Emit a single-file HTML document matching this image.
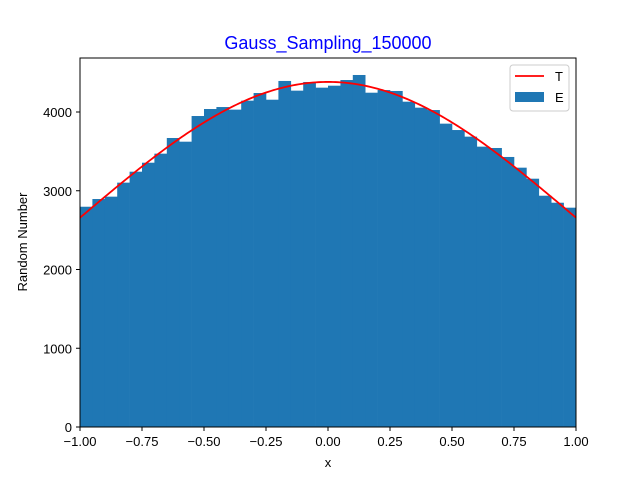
<!DOCTYPE html>
<html><head><meta charset="utf-8"><style>
body{margin:0;background:#fff;}
svg text{font-family:"Liberation Sans","DejaVu Sans",sans-serif;}
</style></head><body>
<svg id="chart" width="640" height="480" xmlns="http://www.w3.org/2000/svg">
<rect width="640" height="480" fill="#fff"/>
<text x="328" y="49" text-anchor="middle" font-size="18" fill="#0000ff">Gauss_Sampling_150000</text>
<g id="bars"></g>
<polyline id="curve" fill="none" stroke="#ff0000" stroke-width="1.8"/>
<rect x="80" y="58" width="496" height="369" fill="none" stroke="#000" stroke-width="1"/>
<g id="xticks"></g>
<g id="yticks"></g>
<text x="328" y="467" text-anchor="middle" font-size="13">x</text>
<text transform="translate(27,242) rotate(-90)" text-anchor="middle" font-size="13">Random Number</text>
<g>
<rect x="510" y="65" width="59" height="46" rx="3" fill="#fff" stroke="#ccc"/>
<line x1="515" y1="76" x2="544" y2="76" stroke="#ff0000" stroke-width="1.8"/>
<text x="555" y="81" font-size="13">T</text>
<rect x="515" y="92" width="29" height="10" fill="#1f77b4"/>
<text x="555" y="102" font-size="13">E</text>
</g>
</svg>
<script>
const counts=[2797,2895,2925,3103,3242,3356,3471,3670,3623,3949,4038,4063,4030,4144,4241,4156,4394,4271,4381,4309,4334,4406,4470,4245,4279,4267,4131,4055,4025,3852,3771,3687,3560,3543,3429,3293,3153,2937,2848,2785];
const xTicks=[-1,-0.75,-0.5,-0.25,0,0.25,0.5,0.75,1];
const xTickLabels=["\u22121.00","\u22120.75","\u22120.50","\u22120.25","0.00","0.25","0.50","0.75","1.00"];
const yTicks=[0,1000,2000,3000,4000];
const theoryPeak=[4382];
const theorySigma=[1];
const NS="http://www.w3.org/2000/svg";
const X=v=>80+(v+1)/2*496;
const Y=v=>427-v*0.07875;
const bars=document.getElementById('bars');
const w=2/counts.length;
counts.forEach((c,i)=>{
 const r=document.createElementNS(NS,'rect');
 const x0=X(-1+i*w),x1=X(-1+(i+1)*w);
 r.setAttribute('x',x0);r.setAttribute('y',Y(c));
 r.setAttribute('width',x1-x0+0.3);r.setAttribute('height',Y(0)-Y(c));
 r.setAttribute('fill','#1f77b4');
 
 
 bars.appendChild(r);
});
let pts=[];
for(let k=0;k<=200;k++){const x=-1+k*0.01;const v=theoryPeak[0]*Math.exp(-x*x/(2*theorySigma[0]*theorySigma[0]));pts.push(X(x).toFixed(2)+','+Y(v).toFixed(2));}
document.getElementById('curve').setAttribute('points',pts.join(' '));
const xg=document.getElementById('xticks');
xTicks.forEach((t,i)=>{
 const l=document.createElementNS(NS,'line');
 l.setAttribute('x1',X(t));l.setAttribute('x2',X(t));l.setAttribute('y1',427);l.setAttribute('y2',431);l.setAttribute('stroke','#000');
 
 
 xg.appendChild(l);
 const tx=document.createElementNS(NS,'text');
 tx.setAttribute('x',X(t));tx.setAttribute('y',446);tx.setAttribute('text-anchor','middle');tx.setAttribute('font-size','13');
 tx.textContent=xTickLabels[i];
 
 
 xg.appendChild(tx);
});
const yg=document.getElementById('yticks');
yTicks.forEach(t=>{
 const l=document.createElementNS(NS,'line');
 l.setAttribute('x1',76);l.setAttribute('x2',80);l.setAttribute('y1',Y(t));l.setAttribute('y2',Y(t));l.setAttribute('stroke','#000');
 
 
 yg.appendChild(l);
 const tx=document.createElementNS(NS,'text');
 tx.setAttribute('x',72);tx.setAttribute('y',Y(t)+5);tx.setAttribute('text-anchor','end');tx.setAttribute('font-size','13');
 tx.textContent=t;
 
 
 yg.appendChild(tx);
});
</script>
</body></html>
